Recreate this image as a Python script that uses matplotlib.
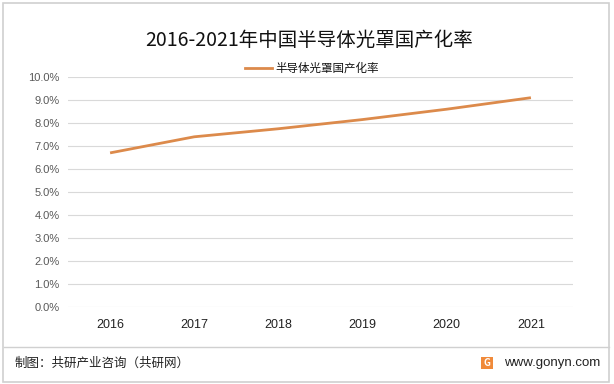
import matplotlib.pyplot as plt
from matplotlib.patches import Rectangle
from matplotlib.lines import Line2D

plt.rcParams['font.family'] = ['Noto Sans CJK SC', 'DejaVu Sans']

# data
years = ["2016", "2017", "2018", "2019", "2020", "2021"]
rate = [0.067, 0.074, 0.0775, 0.0815, 0.086, 0.091]
yticks = [i / 100 for i in range(0, 11)]

fig = plt.figure(figsize=(6.14, 3.84), dpi=100)
ax = fig.add_axes([68 / 614, 1 - 307 / 384, 505 / 614, 230 / 384])

x = range(len(years))
ax.plot(x, rate, color="#DC8A4B", linewidth=2.0, solid_capstyle="butt", zorder=3)

ax.set_xlim(-0.5, len(years) - 0.5)
ax.set_ylim(0, 0.10)
ax.set_yticks(yticks)
ax.set_yticklabels([f"{v * 100:.1f}%" for v in yticks], fontsize=8, color="#595959",
                   family=["Liberation Sans", "DejaVu Sans"])
ax.set_xticks(list(x))
ax.set_xticklabels(years, fontsize=9, color="#222222", family=["Liberation Sans", "DejaVu Sans"])
ax.tick_params(axis="both", length=0)
ax.tick_params(axis="x", pad=9)
ax.tick_params(axis="y", pad=6)
ax.grid(axis="y", color="#D9D9D9", linewidth=0.8)
ax.set_axisbelow(True)
for s in ax.spines.values():
    s.set_visible(False)
ax.patch.set_alpha(0)

# title and legend
fig.text(0.503, 1 - 40 / 384, "2016-2021年中国半导体光罩国产化率", fontsize=14,
         ha="center", va="center", color="#111111")
fig.add_artist(Line2D([245 / 614, 272 / 614], [1 - 68 / 384, 1 - 68 / 384],
                      color="#DC8A4B", linewidth=2.0))
fig.text(275 / 614, 1 - 68 / 384, "半导体光罩国产化率", fontsize=8.3, ha="left", va="center",
         color="#111111")

# frame and footer
fig.add_artist(Rectangle((3 / 614, 2 / 384), 606 / 614, 379 / 384, fill=False,
                         edgecolor="#D0D0D0", linewidth=1.2, transform=fig.transFigure))
fig.add_artist(Line2D([4 / 614, 609 / 614], [1 - 347 / 384, 1 - 347 / 384],
                      color="#D0D0D0", linewidth=1.0))
fig.text(15 / 614, 1 - 363 / 384, "制图：共研产业咨询（共研网）", fontsize=9, ha="left",
         va="center", color="#222222")
fig.add_artist(Rectangle((481 / 614, 1 - 369 / 384), 12 / 614, 12 / 384, facecolor="#F08A3A",
                         edgecolor="none", transform=fig.transFigure))
fig.text(487 / 614, 1 - 363 / 384, "G", fontsize=7, fontweight="bold", ha="center", va="center",
         color="white")
fig.text(600 / 614, 1 - 363 / 384, "www.gonyn.com", fontsize=9.5, ha="right", va="center",
         color="#222222", family=["Liberation Sans", "DejaVu Sans"])

fig.savefig("out.png", dpi=100)
